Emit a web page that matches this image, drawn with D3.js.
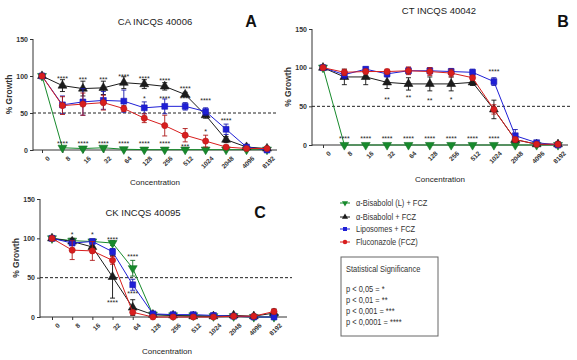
<!DOCTYPE html>
<html>
<head>
<meta charset="utf-8">
<script src="https://cdn.jsdelivr.net/npm/d3@7"></script>
<style>
  body { margin: 0; background: #fff; }
  svg { font-family: "Liberation Sans", Arial, sans-serif; }
</style>
</head>
<body>
<svg id="chart" width="577" height="360"></svg>
<script>
// concentrations on the x axis
var concLabels = ["0","8","16","32","64","128","256","512","1024","2048","4096","8192"];
var seriesNames = ["\u03b1-Bisabolol (L) + FCZ", "\u03b1-Bisabolol + FCZ", "Liposomes + FCZ", "Fluconazole (FCZ)"];
var seriesColors = ["#178a2c", "#1c1c1c", "#1f1fd6", "#d81e1e"];
var seriesShapes = [d3.symbolTriangle, d3.symbolTriangle, d3.symbolSquare, d3.symbolCircle];

// panel A - CA INCQS 40006
var aGreen = [100,3,2,3,1,0.5,0.5,0.5,0.5,0.5,0.5,0.5];
var aBlack = [100,87,83,84,91,89,86,75,47,14,4,2];
var aBlue  = [100,61,65,67,66,57,59,59,52,28,4,0];
var aRed   = [100,60,62,64,56,43,33,20,12,4,2,2];
var aGreenErr = [0,1,1,1,0,0,0,0,0,0,0,0];
var aBlackErr = [0,8,10,9,8,6,5,3,4,4,2,1];
var aBlueErr  = [0,12,18,12,15,8,10,5,5,7,1,1];
var aRedErr   = [0,12,15,10,4,6,14,9,8,2,1,1];
var aStars = [[1,97,"****"],[2,96,"***"],[3,96,"***"],[4,100,"****"],[5,97,"****"],[6,95,"****"],
              [7,84,"****"],[5,70,"*"],[6,70,"****"],[7,70,"****"],[8,67,"****"],[9,41,"****"],
              [8,26,"*"],[7,6,"***"],
              [1,10,"****"],[2,10,"****"],[3,10,"****"],[4,10,"****"],[5,10,"****"],[6,10,"****"]];

// panel B - CT INCQS 40042
var bGreen = [100,0,0,0,0,0,0,0,0,0,0,0];
var bBlack = [100,88,88,81,79,79,79,81,46,7,1,1];
var bBlue  = [100,91,98,92,96,96,95,94,82,12,3,0];
var bRed   = [100,94,95,95,96,95,93,87,46,7,1,1];
var bGreenErr = [0,0,0,0,0,0,0,0,0,0,0,0];
var bBlackErr = [0,10,10,8,8,9,9,4,12,4,1,3];
var bBlueErr  = [0,5,3,4,4,4,4,4,5,8,2,3];
var bRedErr   = [0,4,3,3,5,5,5,3,6,3,1,3];
var bStars = [[8,96,"****"],[3,60,"**"],[4,62,"**"],[5,58,"**"],[6,60,"*"],
              [1,9,"****"],[2,9,"****"],[3,9,"****"],[4,9,"****"],[5,9,"****"],[6,9,"****"],[7,9,"****"],[8,9,"****"]];

// panel C - CK INCQS 40095
var cGreen = [100,97,96,94,62,3,2,2,1,1,0,0];
var cBlack = [100,96,89,51,12,3,2,1,1,2,1,5];
var cBlue  = [100,94,96,83,41,4,3,3,2,1,0,0];
var cRed   = [100,85,84,72,6,0,0,0,0,1,1,7];
var cGreenErr = [0,2,2,3,10,1,1,1,1,1,0,0];
var cBlackErr = [0,4,6,27,10,1,1,1,1,2,1,5];
var cBlueErr  = [0,3,3,4,7,1,1,1,1,1,0,0];
var cRedErr   = [0,12,12,5,2,0,0,0,0,1,1,3];
var cStars = [[1,106,"*"],[2,106,"*"],[3,99,"****"],[4,77,"****"],[4,31,"****"],[3,19,"****"]];

var yTicks = [0, 50, 100, 150];
var sigLines = ["p < 0,05 = *", "p < 0,01 = **", "p < 0,001 = ***", "p < 0,0001 = ****"];

var svg = d3.select("#chart");

// squeeze text horizontally, the original uses a narrow font
function narrow(sel, k)
{
  sel.each(function() {
    var len = this.getComputedTextLength();
    d3.select(this).attr("textLength", len * k).attr("lengthAdjust", "spacingAndGlyphs");
  });
}

function drawPanel(p)
{
  var g = svg.append("g");
  var x = d3.scalePoint().domain(concLabels).range([p.x0, p.x1]);
  var y = d3.scaleLinear().domain([0, 150]).range([p.yBot, p.yTop]);

  // y axis
  var yAxis = d3.axisLeft(y).tickValues(yTicks).tickSize(3).tickPadding(2);
  var ya = g.append("g").attr("transform", "translate(" + p.axisX + ",0)").call(yAxis);
  ya.select(".domain").attr("d", "M0," + y(150) + "V" + (y(0) + 1)).attr("stroke", "#333");
  ya.selectAll("line").attr("stroke", "#333");
  ya.selectAll("text").attr("font-size", 7).attr("font-weight", "bold").attr("fill", "#333");

  // x axis
  var xAxis = d3.axisBottom(x).tickSize(3).tickPadding(2);
  var xa = g.append("g").attr("transform", "translate(0," + y(0) + ")").call(xAxis);
  xa.select(".domain").attr("d", "M" + p.axisX + ",0H" + p.axisEnd).attr("stroke", "#333");
  xa.selectAll("line").attr("stroke", "#333");
  xa.selectAll("text")
    .attr("font-size", 6.5).attr("font-weight", "bold").attr("fill", "#333")
    .attr("text-anchor", "end")
    .attr("transform", "translate(2,3) rotate(-45)")
    .attr("dy", "0.5em");

  // dashed 50% line
  g.append("line")
   .attr("x1", p.axisX).attr("x2", p.dashEnd)
   .attr("y1", y(50)).attr("y2", y(50))
   .attr("stroke", "#222").attr("stroke-width", 1)
   .attr("stroke-dasharray", "3,2");

  var line = d3.line().x(function(d, i) { return x(concLabels[i]); }).y(function(d) { return y(d); });

  p.series.forEach(function(vals, si) {
    var col = seriesColors[si];
    var errs = p.errors[si];
    g.append("path").datum(vals)
     .attr("d", line).attr("fill", "none")
     .attr("stroke", col).attr("stroke-width", 1);

    // error bars
    var eb = g.append("g").attr("stroke", si == 1 ? "#111" : d3.color(col).darker(0.6)).attr("stroke-width", 0.9);
    vals.forEach(function(v, i) {
      if (!errs[i]) return;
      var cx = x(concLabels[i]);
      var lo = Math.max(0, v - errs[i]), hi = v + errs[i];
      eb.append("line").attr("x1", cx).attr("x2", cx).attr("y1", y(lo)).attr("y2", y(hi));
      eb.append("line").attr("x1", cx - 2.5).attr("x2", cx + 2.5).attr("y1", y(hi)).attr("y2", y(hi));
      eb.append("line").attr("x1", cx - 2.5).attr("x2", cx + 2.5).attr("y1", y(lo)).attr("y2", y(lo));
    });

    g.selectAll(".m" + si).data(vals).enter().append("path")
     .attr("class", "m" + si)
     .attr("d", d3.symbol().type(seriesShapes[si]).size(si == 3 ? 30 : 34))
     .attr("transform", function(d, i) {
       return "translate(" + x(concLabels[i]) + "," + y(d) + ")" + (si == 0 ? " rotate(180)" : "");
     })
     .attr("fill", col).attr("stroke", d3.color(col).darker(0.5)).attr("stroke-width", 0.6);
  });

  // significance stars
  g.selectAll(".star").data(p.stars).enter().append("text")
   .attr("x", function(d) { return x(concLabels[d[0]]); })
   .attr("y", function(d) { return y(d[1]) + 3; })
   .attr("text-anchor", "middle")
   .attr("font-size", 7).attr("fill", "#222")
   .text(function(d) { return d[2]; });

  // titles
  g.append("text").attr("x", p.titleX).attr("y", p.titleY).attr("text-anchor", "middle")
   .attr("font-size", 9.5).attr("fill", "#222").text(p.title);
  g.append("text").attr("x", p.letterX).attr("y", p.letterY).attr("text-anchor", "middle")
   .attr("font-size", 16).attr("font-weight", "bold").attr("fill", "#111").text(p.letter);

  // axis labels
  g.append("text")
   .attr("transform", "translate(" + p.ylabX + "," + y(75) + ") rotate(-90)")
   .attr("text-anchor", "middle").attr("font-size", 8.5).attr("font-weight", "bold").attr("fill", "#333")
   .text("% Growth");
  g.append("text").attr("x", p.xlabX).attr("y", p.xlabY).attr("text-anchor", "middle")
   .attr("font-size", 8).attr("fill", "#222").text("Concentration");
}

drawPanel({
  title: "CA INCQS 40006", letter: "A",
  x0: 42, x1: 267, axisX: 33, axisEnd: 277, dashEnd: 277, yTop: 39, yBot: 150,
  titleX: 155, titleY: 25, letterX: 251, letterY: 27, ylabX: 12, xlabX: 155, xlabY: 185,
  series: [aGreen, aBlack, aBlue, aRed], errors: [aGreenErr, aBlackErr, aBlueErr, aRedErr], stars: aStars
});

drawPanel({
  title: "CT INCQS 40042", letter: "B",
  x0: 323, x1: 558, axisX: 312, axisEnd: 568, dashEnd: 572, yTop: 29, yBot: 145,
  titleX: 439, titleY: 14, letterX: 563, letterY: 27, ylabX: 291, xlabX: 440, xlabY: 182,
  series: [bGreen, bBlack, bBlue, bRed], errors: [bGreenErr, bBlackErr, bBlueErr, bRedErr], stars: bStars
});

drawPanel({
  title: "CK INCQS 40095", letter: "C",
  x0: 52, x1: 274, axisX: 40, axisEnd: 287, dashEnd: 292, yTop: 199, yBot: 317,
  titleX: 143, titleY: 216, letterX: 260, letterY: 218, ylabX: 19, xlabX: 167, xlabY: 354,
  series: [cGreen, cBlack, cBlue, cRed], errors: [cGreenErr, cBlackErr, cBlueErr, cRedErr], stars: cStars
});

// legend
var legend = svg.append("g").attr("transform", "translate(345,203)");
seriesNames.forEach(function(name, i) {
  var ly = [0, 14, 26, 39][i];
  var col = seriesColors[i];
  legend.append("line").attr("x1", -5).attr("x2", 5).attr("y1", ly).attr("y2", ly)
        .attr("stroke", col).attr("stroke-width", 1);
  legend.append("path").attr("d", d3.symbol().type(seriesShapes[i]).size(16))
        .attr("transform", "translate(0," + ly + ")" + (i == 0 ? " rotate(180)" : ""))
        .attr("fill", col);
  legend.append("text").attr("x", 11).attr("y", ly + 3).attr("font-size", 9)
        .attr("fill", "#333").text(name);
});
legend.selectAll("text").call(narrow, 0.83);

// significance box
var box = svg.append("g");
box.append("rect").attr("x", 341).attr("y", 257).attr("width", 97).attr("height", 79)
   .attr("fill", "none").attr("stroke", "#666").attr("stroke-width", 1);
box.append("text").attr("x", 346).attr("y", 272).attr("font-size", 9).attr("fill", "#333")
   .text("Statistical Significance");
sigLines.forEach(function(s, i) {
  box.append("text").attr("x", 346).attr("y", 292 + i * 11).attr("font-size", 9)
     .attr("fill", "#333").text(s);
});
box.selectAll("text").call(narrow, 0.83);
</script>
</body>
</html>
